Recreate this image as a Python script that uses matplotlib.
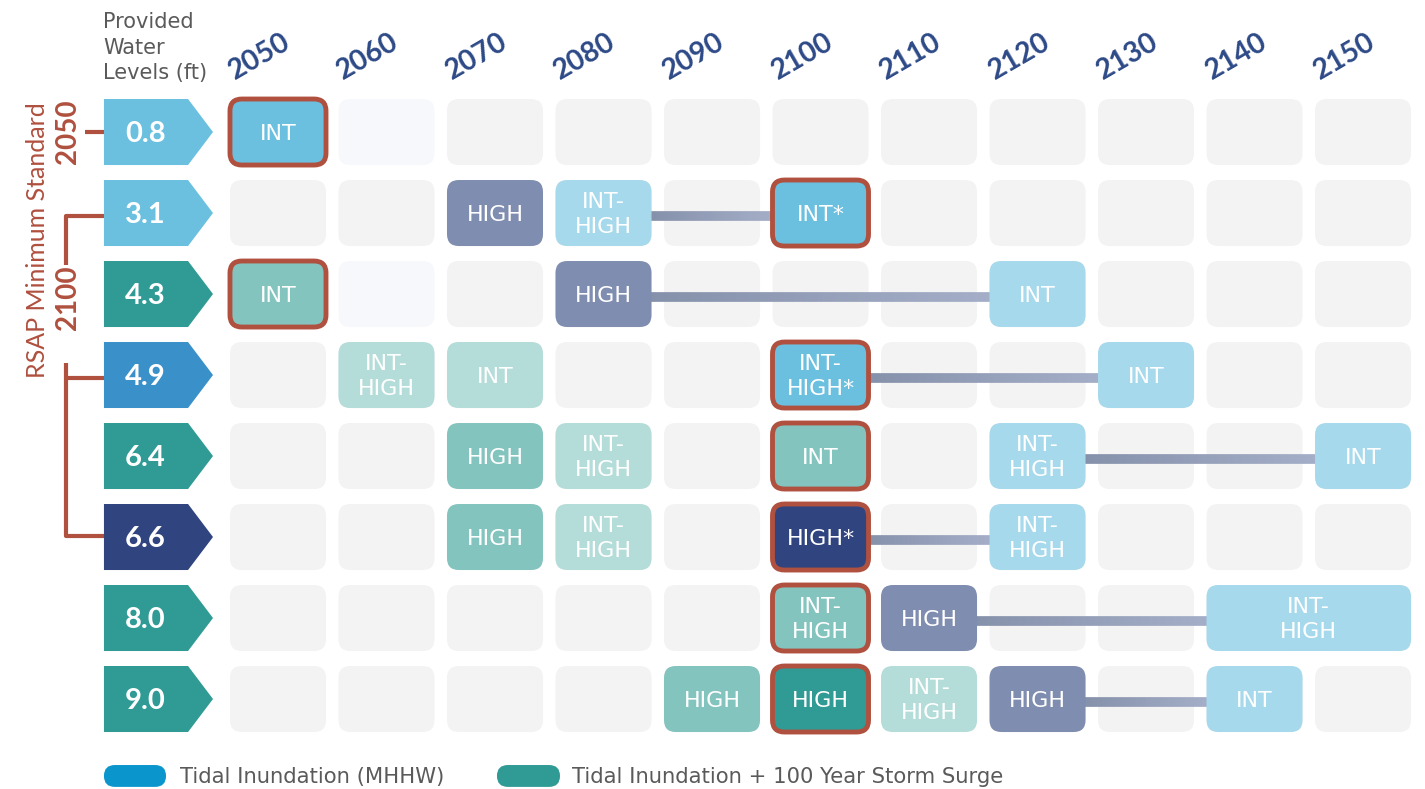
import numpy as np
import matplotlib.pyplot as plt
from matplotlib.patches import FancyBboxPatch, Polygon
from matplotlib.collections import LineCollection
from matplotlib.colors import to_rgb

## data
years = ['2050', '2060', '2070', '2080', '2090', '2100', '2110', '2120', '2130', '2140', '2150']
levels = ['0.8', '3.1', '4.3', '4.9', '6.4', '6.6', '8.0', '9.0']
level_kind = ['mhhw', 'mhhw', 'surge', 'mhhw2', 'surge', 'navy', 'surge', 'surge']

# scenario boxes: row (level index), column (year index), label, colour key, minimum standard flag, column span
box_row = [0, 1, 1, 1, 2, 2, 2, 3, 3, 3, 3, 4, 4, 4, 4, 4, 5, 5, 5, 5, 6, 6, 6, 7, 7, 7, 7, 7]
box_col = [0, 2, 3, 5, 0, 3, 7, 1, 2, 5, 8, 2, 3, 5, 7, 10, 2, 3, 5, 7, 5, 6, 9, 4, 5, 6, 7, 9]
box_text = ['INT', 'HIGH', 'INT-\nHIGH', 'INT*', 'INT', 'HIGH', 'INT',
            'INT-\nHIGH', 'INT', 'INT-\nHIGH*', 'INT',
            'HIGH', 'INT-\nHIGH', 'INT', 'INT-\nHIGH', 'INT',
            'HIGH', 'INT-\nHIGH', 'HIGH*', 'INT-\nHIGH',
            'INT-\nHIGH', 'HIGH', 'INT-\nHIGH',
            'HIGH', 'HIGH', 'INT-\nHIGH', 'HIGH', 'INT']
box_kind = ['mid', 'slate', 'light', 'mid', 'teal', 'slate', 'light',
            'pale', 'pale', 'mid', 'light',
            'teal', 'pale', 'teal', 'light', 'light',
            'teal', 'pale', 'navy', 'light',
            'teal', 'slate', 'light',
            'teal', 'dteal', 'pale', 'slate', 'light']
box_std = [1, 0, 0, 1, 1, 0, 0,
           0, 0, 1, 0,
           0, 0, 1, 0, 0,
           0, 0, 1, 0,
           1, 0, 0,
           0, 1, 0, 0, 0]
box_span = [1] * 22 + [2] + [1] * 5

# connector bars: row, from column, to column
link_row = [1, 2, 3, 4, 5, 6, 7]
link_from = [3, 3, 5, 7, 5, 6, 7]
link_to = [5, 7, 8, 10, 7, 9, 9]

# faint (lighter) empty cells
faint_row = [0, 2]
faint_col = [1, 1]

colors = {'mid': '#6bc0e0', 'light': '#a6d9eb', 'slate': '#7f8db0', 'teal': '#84c4bf',
          'pale': '#b4ddd9', 'navy': '#30457f', 'dteal': '#309a95'}
arrow_colors = {'mhhw': '#6bc0e0', 'mhhw2': '#3a90c8', 'surge': '#309a95', 'navy': '#30457f'}
red = '#b0503f'
navy_txt = '#2d4a87'
grey_txt = '#5a5a5a'

W, H = 0.885, 0.815  # cell size in column / row units

fig = plt.figure(figsize=(14.25, 7.89), dpi=100)
ax = fig.add_axes([0, 0, 1, 1])
ax.set_xlim(-2.562, 10.571)
ax.set_ylim(8.111, -1.630)
ax.axis('off')
asp = 108.5 / 81  # px per column / px per row


def rbox(x0, y0, w, h, fc, ec='none', lw=0, z=1, r=0.11):
    p = FancyBboxPatch((x0, y0), w, h, boxstyle='round,pad=0,rounding_size=%g' % r,
                       mutation_aspect=asp, fc=fc, ec=ec, lw=lw, zorder=z)
    ax.add_patch(p)
    return p


# background grid of empty cells
for j in range(len(levels)):
    for i in range(len(years)):
        fc = '#f3f3f3'
        if any(j == fr and i == fc_ for fr, fc_ in zip(faint_row, faint_col)):
            fc = '#f7f8fc'
        rbox(i - W / 2, j - H / 2, W, H, fc, z=1)

# gradient connector bars
c0, c1 = np.array(to_rgb('#8590aa')), np.array(to_rgb('#a4aec7'))
for r, a, b in zip(link_row, link_from, link_to):
    xs = np.linspace(a + W / 2 - 0.02, b - W / 2 + 0.02, 60)
    segs = [[(xs[k], r + 0.04), (xs[k + 1], r + 0.04)] for k in range(len(xs) - 1)]
    cols = [c0 + (c1 - c0) * k / (len(segs) - 1) for k in range(len(segs))]
    ax.add_collection(LineCollection(segs, colors=cols, linewidths=7, zorder=2, capstyle='butt'))

# scenario boxes
for r, c, t, k, s, sp in zip(box_row, box_col, box_text, box_kind, box_std, box_span):
    w = W + (sp - 1)
    if s:
        rbox(c - W / 2, r - H / 2, w, H, colors[k], ec=red, lw=3.5, z=3)
    else:
        rbox(c - W / 2, r - H / 2, w, H, colors[k], z=3)
    ax.text(c - W / 2 + w / 2, r + 0.02, t, ha='center', va='center', color='white',
            fontsize=16, family='DejaVu Sans', linespacing=1.3, zorder=4)

# year labels
for i, y in enumerate(years):
    ax.text(i - 0.17, -0.93, y, rotation=30, rotation_mode='anchor', ha='center', va='center',
            color=navy_txt, fontsize=20.5, fontweight='bold', family='Lato')

# water level arrows
xl, xs_, xt = -1.604, -0.829, -0.599
for j, (lv, kd) in enumerate(zip(levels, level_kind)):
    hh = H / 2
    ax.add_patch(Polygon([(xl, j - hh), (xs_, j - hh), (xt, j), (xs_, j + hh), (xl, j + hh)],
                         closed=True, fc=arrow_colors[kd], ec='none', zorder=3))
    ax.text(-1.22, j + 0.02, lv, ha='center', va='center', color='white', fontsize=21,
            fontweight='bold', family='Lato', zorder=4)

ax.text(-1.613, -1.48, 'Provided\nWater\nLevels (ft)', ha='left', va='top', color=grey_txt,
        fontsize=15, family='DejaVu Sans', linespacing=1.35)

# RSAP minimum standard brackets
ax.text(-2.221, 1.333, 'RSAP Minimum Standard', rotation=90, ha='center', va='center',
        color=red, fontsize=18, family='Lato')
ax.text(-1.935, 0, '2050', rotation=90, ha='center', va='center', color=red,
        fontsize=20, fontweight='bold', family='Lato')
ax.text(-1.935, 2.05, '2100', rotation=90, ha='center', va='center', color=red,
        fontsize=20, fontweight='bold', family='Lato')
bx = -1.954
kw = dict(color=red, lw=3, solid_capstyle='butt', zorder=2)
ax.plot([-1.78, xl], [0, 0], **kw)
ax.plot([bx, bx, xl], [1.64, 1.04, 1.04], **kw)
ax.plot([xl, bx, bx, xl], [3.04, 3.04, 4.99, 4.99], **kw)
ax.plot([bx, bx], [2.85, 3.04], **kw)

# legend
rbox(-1.604, 7.815, 0.572, 0.27, '#0a96cc', z=3, r=0.1)
ax.text(-0.903, 7.96, 'Tidal Inundation (MHHW)', ha='left', va='center', color=grey_txt,
        fontsize=15.2, family='DejaVu Sans')
rbox(2.018, 7.815, 0.581, 0.27, '#309a95', z=3, r=0.1)
ax.text(2.71, 7.96, 'Tidal Inundation + 100 Year Storm Surge', ha='left', va='center',
        color=grey_txt, fontsize=15.2, family='DejaVu Sans')

fig.savefig('out.png', dpi=100)
